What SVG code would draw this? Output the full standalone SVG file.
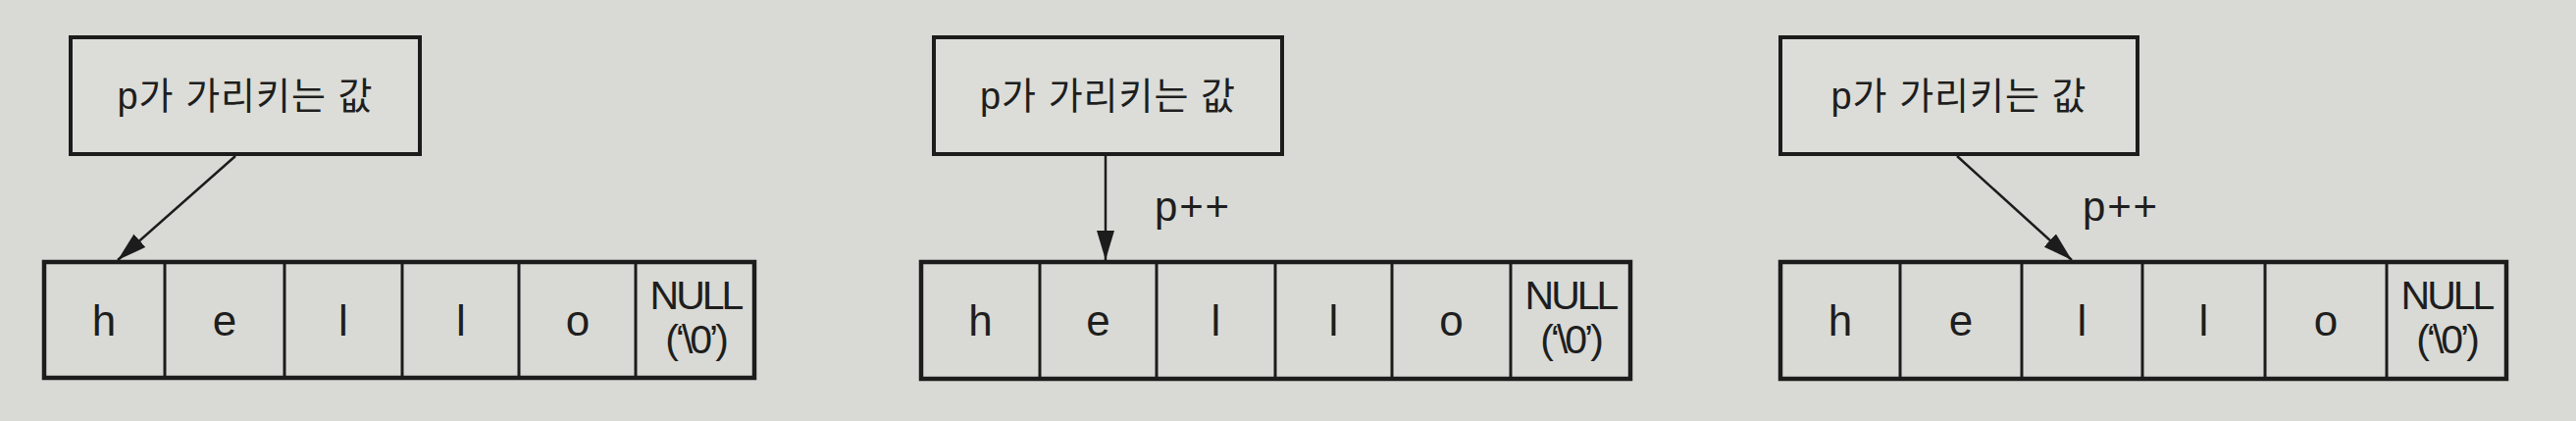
<svg xmlns="http://www.w3.org/2000/svg" width="2626" height="429" viewBox="0 0 2626 429">
  <style>
    .bg { fill: #d9dad5; }
    .box { fill: #dcddd8; stroke: #1c1c1c; stroke-width: 4; }
    .arr { fill: none; stroke: #1c1c1c; stroke-width: 4.5; }
    .div { stroke: #1c1c1c; stroke-width: 3; }
    .lbl { font-family: "Liberation Sans", "Noto Sans CJK KR", sans-serif; font-size: 38px; fill: #1e1e1e; text-anchor: middle; letter-spacing: 1px; }
    .ch { font-family: "Liberation Sans", Arial, sans-serif; font-size: 44px; fill: #1e1e1e; text-anchor: middle; }
    .nul { font-family: "Liberation Sans", Arial, sans-serif; font-size: 41px; fill: #1e1e1e; text-anchor: middle; letter-spacing: -3px; }
    .pp { font-family: "Liberation Sans", Arial, sans-serif; font-size: 42px; fill: #1e1e1e; }
    .conn { stroke: #1c1c1c; stroke-width: 2.5; fill: none; }
  </style>
  <defs>
    <marker id="ah" markerUnits="userSpaceOnUse" markerWidth="30" markerHeight="18" refX="30" refY="9" orient="auto">
      <path d="M0,0 L30,9 L0,18 z" fill="#1c1c1c"/>
    </marker>
  </defs>
  <rect class="bg" x="0" y="0" width="2626" height="429"/>

  <!-- Panel 1 -->
  <g id="label1">
    <rect class="box" x="72" y="38" width="356" height="119"/>
    <text class="lbl" x="250" y="111">p가 가리키는 값</text>
  </g>
  <g id="array1">
    <rect class="arr" x="45" y="267" width="724" height="118"/>
    <line class="div" x1="168" y1="267" x2="168" y2="385"/>
    <line class="div" x1="290" y1="267" x2="290" y2="385"/>
    <line class="div" x1="410" y1="267" x2="410" y2="385"/>
    <line class="div" x1="529" y1="267" x2="529" y2="385"/>
    <line class="div" x1="648" y1="267" x2="648" y2="385"/>
    <text class="ch" x="106" y="342">h</text>
    <text class="ch" x="229" y="342">e</text>
    <text class="ch" x="350" y="342">l</text>
    <text class="ch" x="470" y="342">l</text>
    <text class="ch" x="589" y="342">o</text>
    <text class="nul" x="709" y="315">NULL</text>
    <text class="nul" x="709" y="360">(‘\0’)</text>
  </g>

  <!-- Panel 2 -->
  <g id="label2">
    <rect class="box" x="952" y="38" width="355" height="119"/>
    <text class="lbl" x="1129.5" y="111">p가 가리키는 값</text>
  </g>
  <g id="array2">
    <rect class="arr" x="939" y="267" width="723" height="119"/>
    <line class="div" x1="1060" y1="267" x2="1060" y2="386"/>
    <line class="div" x1="1179" y1="267" x2="1179" y2="386"/>
    <line class="div" x1="1300" y1="267" x2="1300" y2="386"/>
    <line class="div" x1="1419" y1="267" x2="1419" y2="386"/>
    <line class="div" x1="1540" y1="267" x2="1540" y2="386"/>
    <text class="ch" x="999.5" y="342">h</text>
    <text class="ch" x="1119.5" y="342">e</text>
    <text class="ch" x="1239.5" y="342">l</text>
    <text class="ch" x="1359.5" y="342">l</text>
    <text class="ch" x="1479.5" y="342">o</text>
    <text class="nul" x="1601" y="315">NULL</text>
    <text class="nul" x="1601" y="360">(‘\0’)</text>
  </g>

  <!-- Panel 3 -->
  <g id="label3">
    <rect class="box" x="1815" y="38" width="364" height="119"/>
    <text class="lbl" x="1997" y="111">p가 가리키는 값</text>
  </g>
  <g id="array3">
    <rect class="arr" x="1815" y="267" width="740" height="119"/>
    <line class="div" x1="1937" y1="267" x2="1937" y2="386"/>
    <line class="div" x1="2061" y1="267" x2="2061" y2="386"/>
    <line class="div" x1="2184" y1="267" x2="2184" y2="386"/>
    <line class="div" x1="2309" y1="267" x2="2309" y2="386"/>
    <line class="div" x1="2433" y1="267" x2="2433" y2="386"/>
    <text class="ch" x="1876" y="342">h</text>
    <text class="ch" x="1999" y="342">e</text>
    <text class="ch" x="2122.5" y="342">l</text>
    <text class="ch" x="2246.5" y="342">l</text>
    <text class="ch" x="2371" y="342">o</text>
    <text class="nul" x="2494" y="315">NULL</text>
    <text class="nul" x="2494" y="360">(‘\0’)</text>
  </g>

  <!-- Connectors -->
  <g id="connectors">
    <line class="conn" x1="240" y1="159" x2="120" y2="265" marker-end="url(#ah)"/>
    <line class="conn" x1="1127" y1="159" x2="1127" y2="265" marker-end="url(#ah)"/>
    <text class="pp" x="1177" y="225" textLength="76">p++</text>
    <line class="conn" x1="1995" y1="159" x2="2112" y2="265" marker-end="url(#ah)"/>
    <text class="pp" x="2123" y="225" textLength="76">p++</text>
  </g>
</svg>
